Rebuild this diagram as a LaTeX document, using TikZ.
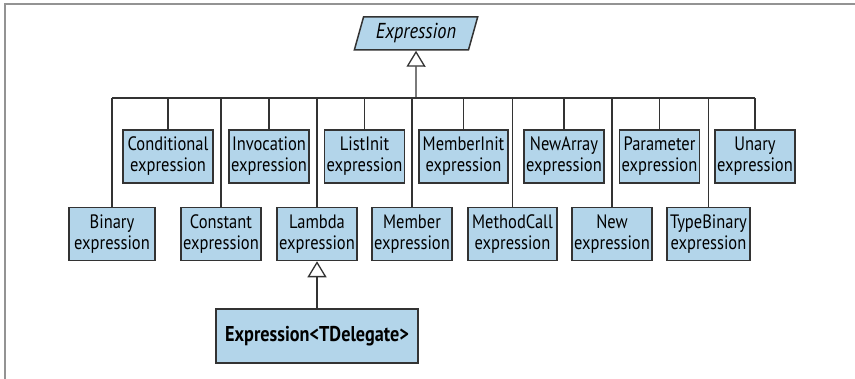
\documentclass[tikz,border=0pt]{standalone}
\usepackage{fontspec}
\setmainfont{PT Sans}[FakeStretch=0.85]
\usetikzlibrary{shapes.geometric,arrows.meta}
\definecolor{boxblue}{HTML}{B3D5EA}
\definecolor{edgegray}{HTML}{333333}
\begin{document}
\begin{tikzpicture}[x=0.5pt,y=-0.5pt,
  kind/.style={rectangle,draw=edgegray,fill=boxblue,line width=0.75pt,align=center,
    minimum width=40pt,minimum height=26.5pt,inner sep=1pt,font=\fontsize{9.7}{10.5}\selectfont},
  link/.style={draw=edgegray,line width=0.65pt},
  inherit/.style={link,-{Triangle[open,length=8pt,width=9.5pt]}}]
  \useasboundingbox (0,0) rectangle (855,379);
  \draw[gray!85,line width=0.75pt] (855,4) -- (5,4) -- (5,379);
  % base class
  \node (expr) [trapezium,trapezium left angle=76,trapezium right angle=104,trapezium stretches=true,
    draw=edgegray,fill=boxblue,line width=0.75pt,minimum width=62pt,minimum height=16.5pt,
    font=\fontsize{10.8}{12}\selectfont\itshape] at (416,33.5) {Expression};
  \coordinate (bus) at (416,98);
  % upper row
  \node (cond) [kind,minimum width=45pt] at (168,156.5) {Conditional\\expression};
  \node (inv) [kind] at (269,156.5) {Invocation\\expression};
  \node (list) [kind] at (364.5,156.5) {ListInit\\expression};
  \node (minit) [kind,minimum width=44.5pt] at (463.5,156.5) {MemberInit\\expression};
  \node (narr) [kind] at (564,156.5) {NewArray\\expression};
  \node (par) [kind] at (659.5,156.5) {Parameter\\expression};
  \node (un) [kind] at (755,156.5) {Unary\\expression};
  % lower row
  \node (bin) [kind,minimum width=43pt] at (112,234) {Binary\\expression};
  \node (con) [kind] at (221,234) {Constant\\expression};
  \node (lam) [kind] at (317,234) {Lambda\\expression};
  \node (mem) [kind] at (412,234) {Member\\expression};
  \node (mcall) [kind,minimum width=44.5pt] at (512.5,234) {MethodCall\\expression};
  \node (new) [kind] at (612,234) {New\\expression};
  \node (tbin) [kind,minimum width=41.5pt] at (708.5,234) {TypeBinary\\expression};
  \node (del) [kind,minimum width=101pt,minimum height=27pt,font=\fontsize{10.7}{12}\selectfont\bfseries]
    at (317,336) {Expression<TDelegate>};
  % connectors
  \draw[inherit] (bus) -- (expr);
  \draw[link] (bin.north |- bus) -- (un.north |- bus);
  \draw[link] (cond.north) -- (cond.north |- bus);
  \draw[link] (inv.north) -- (inv.north |- bus);
  \draw[link] (list.north) -- (list.north |- bus);
  \draw[link] (minit.north) -- (minit.north |- bus);
  \draw[link] (narr.north) -- (narr.north |- bus);
  \draw[link] (par.north) -- (par.north |- bus);
  \draw[link] (un.north) -- (un.north |- bus);
  \draw[link] (bin.north) -- (bin.north |- bus);
  \draw[link] (con.north) -- (con.north |- bus);
  \draw[link] (lam.north) -- (lam.north |- bus);
  \draw[link] (mem.north) -- (mem.north |- bus);
  \draw[link] (mcall.north) -- (mcall.north |- bus);
  \draw[link] (new.north) -- (new.north |- bus);
  \draw[link] (tbin.north) -- (tbin.north |- bus);
  \draw[inherit] (del) -- (lam);
\end{tikzpicture}
\end{document}
